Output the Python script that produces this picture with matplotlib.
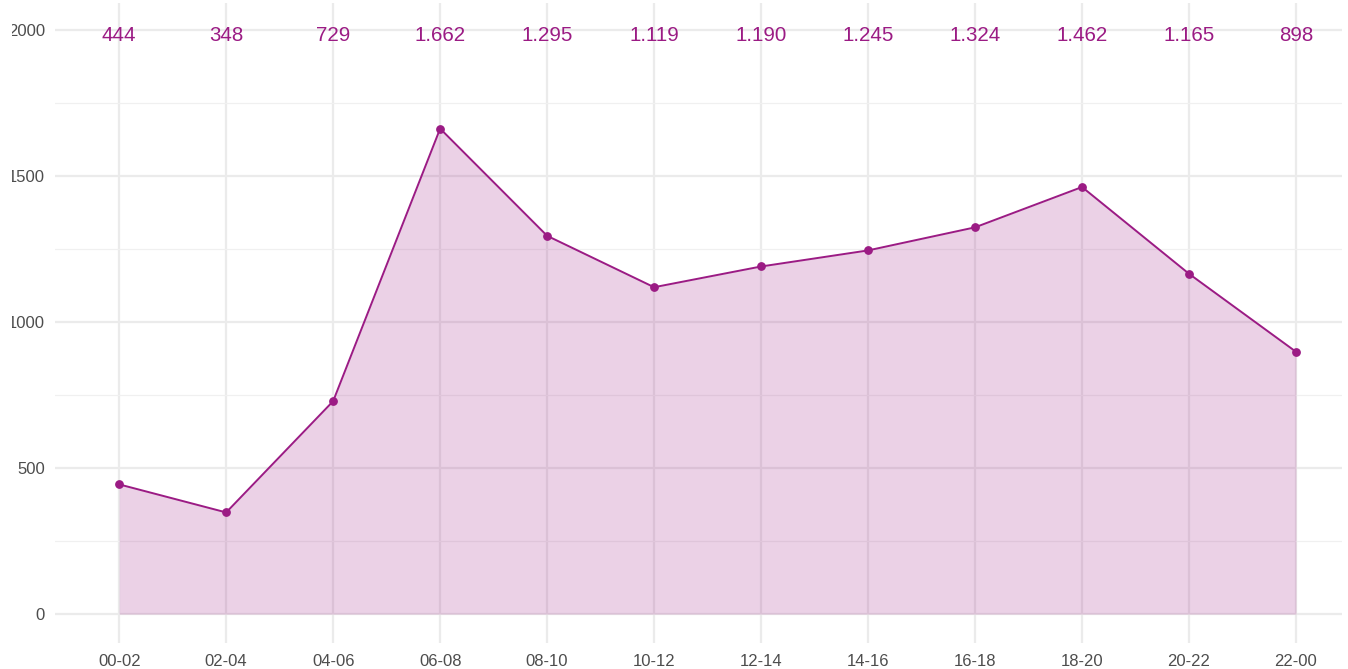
import numpy as np
import matplotlib
matplotlib.use("Agg")
import matplotlib.pyplot as plt
from matplotlib.ticker import MultipleLocator
from matplotlib.patches import Rectangle

# hourly buckets and counts
hours = ['00-02', '02-04', '04-06', '06-08', '08-10', '10-12',
         '12-14', '14-16', '16-18', '18-20', '20-22', '22-00']
counts = [444, 348, 729, 1662, 1295, 1119, 1190, 1245, 1324, 1462, 1165, 898]

purple = '#9B1B84'

plt.rcParams['font.family'] = ['Liberation Sans', 'DejaVu Sans']

fig = plt.figure(figsize=(13.48, 6.69), dpi=100)
ax = fig.add_axes([55/1348, 26/669, (1342-55)/1348, (643-3)/669])

x = np.arange(len(hours))
ax.fill_between(x, counts, 0, color=purple, alpha=0.2, linewidth=0, zorder=2)
ax.plot(x, counts, color=purple, linewidth=1.4, zorder=3)
ax.scatter(x, counts, color=purple, s=28, zorder=4)

# value labels along the top, dot as thousands separator
for xi, c in zip(x, counts):
    ax.text(xi, 1980, f'{c:,}'.replace(',', '.'), color=purple, fontsize=14.8,
            ha='center', va='center', zorder=5)

ax.set_xlim(-0.6, 11.43)
ax.set_ylim(-99, 2092)
ax.set_xticks(x, labels=hours)
ax.yaxis.set_major_locator(MultipleLocator(500))
ax.yaxis.set_minor_locator(MultipleLocator(250))

ax.grid(True, which='major', color='#EBEBEB', linewidth=1.6, zorder=0)
ax.grid(True, which='minor', axis='y', color='#F0F0F0', linewidth=0.9, zorder=0)
ax.set_axisbelow(True)
for s in ax.spines.values():
    s.set_visible(False)
ax.tick_params(axis='both', which='both', length=0, labelsize=12,
               labelcolor='#4D4D4D')
ax.tick_params(axis='y', pad=7.2)
ax.tick_params(axis='x', pad=8)

# the original is cut off at the left edge, hiding part of the y labels
fig.patches.append(Rectangle((0, 0), 12/1348, 1, transform=fig.transFigure,
                             facecolor='white', edgecolor='none', zorder=10))

fig.savefig('out.png', dpi=100)
